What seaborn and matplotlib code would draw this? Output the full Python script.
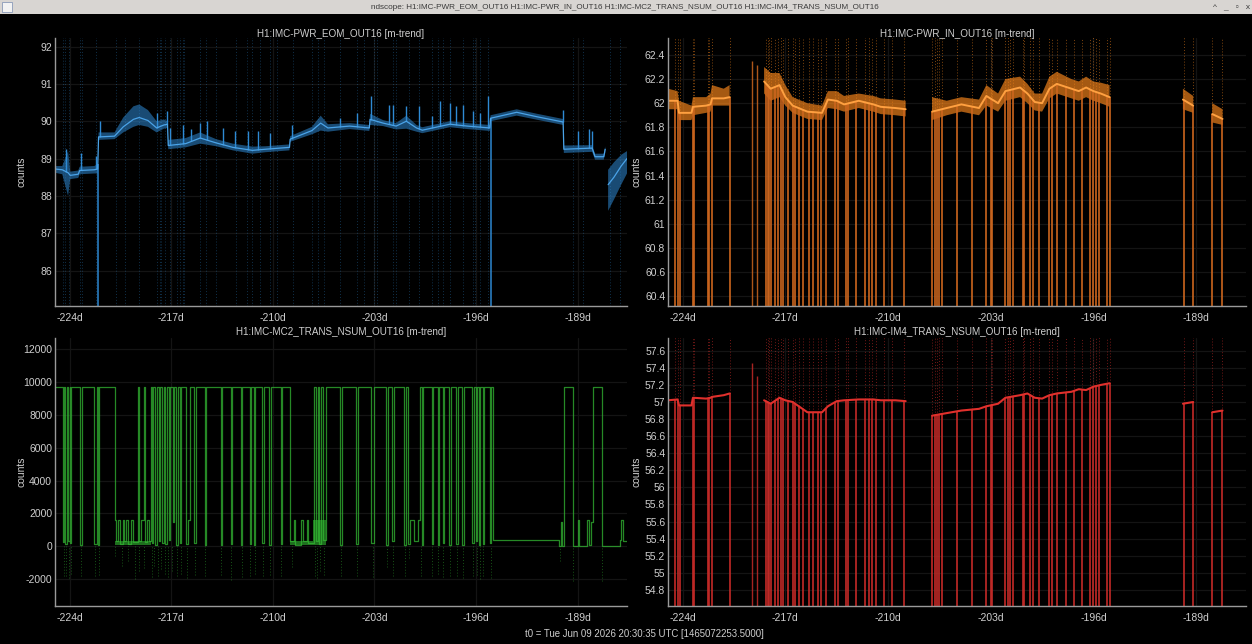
import matplotlib
matplotlib.use("Agg")
import matplotlib.pyplot as plt
import numpy as np
import pandas as pd
import seaborn as sns
from matplotlib.patches import Rectangle
from matplotlib.ticker import FixedLocator, FuncFormatter

# ---- data (days relative to t0) ----
window_title = ("ndscope: H1:IMC-PWR_EOM_OUT16 H1:IMC-PWR_IN_OUT16 "
                "H1:IMC-MC2_TRANS_NSUM_OUT16 H1:IMC-IM4_TRANS_NSUM_OUT16")
panel_titles = ["H1:IMC-PWR_EOM_OUT16 [m-trend]", "H1:IMC-PWR_IN_OUT16 [m-trend]",
                "H1:IMC-MC2_TRANS_NSUM_OUT16 [m-trend]", "H1:IMC-IM4_TRANS_NSUM_OUT16 [m-trend]"]
t0_text = "t0 = Tue Jun 09 2026 20:30:35 UTC [1465072253.5000]"
day_ticks = [-224, -217, -210, -203, -196, -189]

# PWR_EOM (blue): mean, min, max
eom_days = [-225.0, -224.5, -224.1, -223.95, -223.4, -223.3, -222.3, -222.06, -222.0,
            -220.9, -220.3, -219.6, -219.2, -218.6, -218.0, -217.5, -217.25, -217.2,
            -216.0, -215.0, -213.9, -212.75, -211.4, -210.5, -208.85, -208.8, -207.3,
            -206.7, -206.2, -204.7, -203.35, -203.3, -202.4, -201.5, -200.8, -200.1,
            -199.7, -197.8, -196.6, -195.05, -195.0, -193.2, -191.8, -190.0, -189.95,
            -188.0, -187.8, -187.2, -187.1, -187.0, -186.9, -186.5, -186.0, -185.6]
eom_mean = [88.72, 88.70, 88.62, 88.55, 88.58, 88.68, 88.70, 88.72, 89.58,
            89.60, 89.85, 90.05, 90.10, 90.02, 89.82, 89.90, 89.92, 89.35,
            89.40, 89.55, 89.42, 89.30, 89.22, 89.25, 89.30, 89.52, 89.75,
            89.95, 89.82, 89.87, 89.82, 90.05, 89.95, 89.87, 90.00, 89.82,
            89.76, 89.92, 89.87, 89.82, 90.08, 90.24, 90.12, 89.98, 89.25,
            89.28, 89.05, 89.05, 89.25, np.nan, 88.30, 88.50, 88.80, 89.00]
eom_lo = [88.62, 88.58, 88.00, 88.45, 88.48, 88.58, 88.60, 88.60, 89.50,
          89.52, 89.70, 89.85, 89.90, 89.85, 89.70, 89.80, 89.82, 89.25,
          89.30, 89.40, 89.33, 89.22, 89.13, 89.17, 89.22, 89.45, 89.65,
          89.75, 89.72, 89.79, 89.74, 89.90, 89.87, 89.78, 89.80, 89.72,
          89.68, 89.84, 89.79, 89.74, 90.00, 90.15, 90.04, 89.90, 89.15,
          89.18, 88.97, 88.97, 89.15, np.nan, 87.60, 87.90, 88.30, 88.60]
eom_hi = [88.80, 88.80, 89.20, 88.65, 88.68, 88.78, 88.80, 88.85, 89.70,
          89.70, 90.10, 90.40, 90.45, 90.30, 90.00, 90.05, 90.00, 89.50,
          89.55, 89.70, 89.52, 89.40, 89.32, 89.33, 89.38, 89.60, 89.85,
          90.15, 89.92, 89.95, 89.90, 90.20, 90.03, 89.95, 90.15, 89.90,
          89.84, 90.00, 89.95, 89.90, 90.16, 90.32, 90.20, 90.06, 89.35,
          89.36, 89.13, 89.13, 89.33, np.nan, 88.70, 88.90, 89.10, 89.20]
eom_spike_days = [-224.23, -223.2, -222.2, -221.9, -218.0, -217.3, -217.1, -216.2, -215.6,
                  -215.0, -214.5, -213.4, -212.6, -211.7, -211.0, -210.2, -208.7, -205.4,
                  -204.2, -203.2, -202.0, -201.7, -200.8, -199.9, -199.0, -198.5, -197.8,
                  -197.4, -196.9, -196.2, -195.7, -195.2, -190.0, -189.0, -188.2, -188.0]
eom_spike_tops = [89.25, 89.16, 89.07, 90.00, 90.22, 90.27, 89.82, 89.91, 89.78,
                  89.95, 90.00, 89.82, 89.73, 89.73, 89.73, 89.69, 89.91, 90.09,
                  90.22, 90.67, 90.44, 90.44, 90.40, 90.40, 90.13, 90.53, 90.50,
                  90.40, 90.44, 90.27, 90.22, 90.67, 90.31, 89.73, 89.78, 89.73]
eom_dropout_days = [-224.46, -224.3, -224.07, -223.31, -223.15, -222.2, -220.8, -220.2,
                    -219.2, -218.0, -217.8, -217.7, -217.4, -217.1, -216.6, -216.4,
                    -216.2, -216.1, -215.0, -214.6, -213.9, -212.5, -211.8, -211.4,
                    -210.9, -210.2, -209.7, -208.6, -207.3, -206.9, -206.5, -205.4,
                    -204.2, -203.7, -203.0, -202.85, -201.7, -201.5, -200.6, -199.9,
                    -199.0, -198.6, -198.3, -197.8, -196.9, -196.2, -196.1, -195.7,
                    -195.15, -189.3, -188.6, -186.8, -186.1]
eom_full_drops = [-222.05, -195.0]
eom_range = [84.9, 92.4]

# PWR_IN (orange) and IM4 (red) share the same lock segments
pwr_days = [-225.0, -224.35, -224.25, -223.4, -223.3, -222.4, -222.1, -222.0, -221.2, -220.8,
            -220.7, -218.45, -218.0, -217.4, -217.0, -216.5, -215.5, -214.5, -214.1,
            -213.5, -213.0, -212.0, -211.0, -210.5, -209.5, -208.8, -208.7, -207.0,
            -206.0, -205.0, -203.8, -203.3, -202.5, -202.0, -201.0, -200.5, -200.0,
            -199.5, -199.0, -198.5, -197.5, -197.0, -196.5, -196.0, -195.5, -194.9,
            -194.8, -189.9, -189.2, -189.1, -187.9, -187.2]
in_mean = [62.02, 62.02, 61.92, 61.92, 61.97, 61.98, 61.99, 62.04, 62.04, 62.05,
           np.nan, 62.18, 62.12, 62.15, 62.05, 61.98, 61.93, 61.92, 62.03,
           62.02, 61.99, 62.02, 61.99, 61.97, 61.96, 61.95, np.nan, 61.93,
           61.96, 61.99, 61.96, 62.06, 62.00, 62.10, 62.13, 62.08, 62.01,
           62.00, 62.12, 62.16, 62.12, 62.10, 62.13, 62.10, 62.08, 62.05,
           np.nan, 62.03, 61.98, np.nan, 61.91, 61.87]
in_lo = [61.95, 61.95, 61.86, 61.86, 61.90, 61.92, 61.93, 61.98, 61.98, 61.98,
         np.nan, 62.08, 62.02, 62.05, 61.98, 61.92, 61.87, 61.86, 61.96,
         61.95, 61.93, 61.96, 61.93, 61.91, 61.90, 61.89, np.nan, 61.86,
         61.90, 61.93, 61.90, 61.98, 61.93, 62.02, 62.05, 62.00, 61.94,
         61.93, 62.04, 62.08, 62.04, 62.02, 62.05, 62.02, 62.00, 61.97,
         np.nan, 61.95, 61.92, np.nan, 61.84, 61.82]
in_hi = [62.12, 62.10, 62.02, 61.98, 62.05, 62.05, 62.08, 62.15, 62.12, 62.15,
         np.nan, 62.30, 62.25, 62.25, 62.15, 62.05, 62.00, 61.98, 62.10,
         62.10, 62.06, 62.08, 62.06, 62.04, 62.03, 62.02, np.nan, 62.05,
         62.02, 62.05, 62.03, 62.15, 62.08, 62.20, 62.22, 62.16, 62.08,
         62.08, 62.22, 62.26, 62.20, 62.18, 62.22, 62.18, 62.17, 62.15,
         np.nan, 62.12, 62.06, np.nan, 62.00, 61.95]
im4_mean = [57.02, 57.03, 56.96, 56.96, 57.05, 57.04, 57.05, 57.06, 57.08, 57.10,
            np.nan, 57.02, 56.98, 57.05, 57.02, 57.00, 56.88, 56.88, 56.95,
            57.01, 57.02, 57.03, 57.03, 57.02, 57.02, 57.01, np.nan, 56.84,
            56.87, 56.90, 56.92, 56.95, 56.98, 57.05, 57.08, 57.10, 57.05,
            57.04, 57.08, 57.10, 57.12, 57.15, 57.14, 57.18, 57.20, 57.22,
            np.nan, 56.98, 57.00, np.nan, 56.88, 56.90]
pwr_spike_days = [-224.5, -224.3, -224.2, -223.3, -223.2, -222.3, -222.2, -222.0, -220.8,
                  -218.3, -218.2, -218.1, -217.95, -217.7, -217.5, -217.3, -217.15, -216.8,
                  -216.5, -216.35, -216.1, -215.8, -215.4, -215.1, -214.75, -214.6, -214.2,
                  -213.6, -213.4, -212.9, -212.7, -212.2, -211.6, -211.3, -211.1, -210.8,
                  -210.3, -209.7, -208.9, -207.0, -206.8, -206.65, -206.5, -206.3, -205.3,
                  -204.25, -203.3, -203.0, -202.9, -202.0, -201.85, -201.7, -201.5, -200.8,
                  -200.7, -200.3, -200.1, -199.7, -199.0, -198.8, -198.5, -197.9, -197.3,
                  -196.8, -196.2, -196.0, -195.8, -195.6, -195.1, -194.9, -189.8, -189.2,
                  -187.9, -187.25]
pwr_lone_days = [-219.3, -218.9]
in_lone_tops = [62.35, 62.32]
im4_lone_tops = [57.46, 57.30]
pwr_dropout_level = 0.0
in_max_level = 62.6
im4_max_level = 57.8

# MC2 trans (green): step transitions of the mean, plus the min-trend dips
mc2_days = [-225.0, -224.46, -224.38, -224.3, -224.2, -224.1, -224.0, -223.95, -223.87, -223.3,
            -223.12, -222.3, -222.12, -222.05, -221.95, -220.9, -220.8, -220.65, -220.5,
            -220.35, -220.25, -220.1, -219.95, -219.75, -219.6, -219.3, -219.2, -219.05,
            -218.9, -218.8, -218.65, -218.5, -218.4, -218.3, -218.22, -218.1, -218.0,
            -217.85, -217.75, -217.62, -217.52, -217.4, -217.3, -217.15, -217.05, -216.9,
            -216.8, -216.65, -216.55, -216.4, -216.3, -215.95, -215.85, -215.7, -215.4,
            -215.3, -214.7, -214.6, -213.6, -213.5, -212.9, -212.8, -212.2, -212.1,
            -211.6, -211.5, -211.3, -211.2, -210.75, -210.6, -210.25, -210.15, -209.45,
            -209.35, -208.8, -208.55, -208.45, -208.05, -207.95, -207.65, -207.55, -207.15,
            -207.0, -206.9, -206.8, -206.65, -206.55, -206.35, -205.35, -205.25, -204.25,
            -204.15, -203.25, -203.0, -202.2, -202.05, -201.8, -201.65, -200.95, -200.85,
            -200.7, -200.55, -200.3, -200.0, -199.85, -199.75, -199.65, -199.05, -198.95,
            -198.65, -198.55, -198.3, -198.2, -197.85, -197.75, -197.35, -197.25, -196.95,
            -196.85, -196.25, -196.15, -196.0, -195.9, -195.8, -195.7, -195.55, -195.45,
            -195.05, -194.95, -194.85, -190.25, -190.15, -190.05, -189.95, -189.3, -189.0,
            -188.9, -188.35, -188.25, -188.05, -187.95, -187.3, -186.1, -186.0, -185.9,
            -185.6]
mc2_vals = [9700, 250, 9700, 150, 9700, 300, 9700, 200, 9700, 100,
            9700, 150, 9700, 100, 9700, 1600, 300, 1600, 150,
            1600, 300, 1600, 120, 1600, 250, 9700, 300, 1600,
            9700, 250, 1600, 300, 9700, 200, 9700, 100, 9700,
            300, 9700, 200, 9700, 150, 9700, 400, 9700, 1500,
            9700, 100, 9700, 200, 9700, 150, 1600, 9700, 200,
            9700, 100, 9700, 100, 9700, 150, 9700, 100, 9700,
            150, 9700, 100, 9700, 200, 9700, 100, 9700, 150,
            9700, 300, 1600, 100, 1600, 300, 1600, 200, 9700,
            300, 9700, 150, 9700, 400, 9700, 100, 9700, 150,
            9700, 200, 9700, 100, 9700, 300, 9700, 100, 9700,
            150, 1600, 300, 1600, 9700, 100, 9700, 150, 9700,
            100, 9700, 200, 9700, 100, 9700, 150, 9700, 100,
            9700, 200, 9700, 300, 9700, 100, 9700, 150, 9700,
            200, 9700, 370, 50, 1500, 50, 9700, 50, 1600,
            50, 1600, 100, 1500, 9700, 30, 400, 1600, 300,
            300]
mc2_min_days = [-224.4, -224.25, -224.05, -223.9, -223.2, -222.25, -222.0, -220.85, -220.4,
                -220.0, -219.5, -219.2, -218.85, -218.3, -218.15, -217.9, -217.7, -217.45,
                -217.2, -216.95, -216.6, -216.35, -215.9, -215.35, -214.65, -213.55, -212.85,
                -212.15, -211.55, -211.25, -210.7, -210.2, -209.4, -208.7, -207.1, -206.95,
                -206.75, -206.5, -205.3, -204.2, -203.1, -202.1, -201.7, -200.9, -200.6,
                -199.8, -199.0, -198.6, -198.25, -197.8, -197.3, -196.9, -196.2, -195.95,
                -195.75, -195.5, -195.0, -190.2, -189.3, -187.3]
mc2_min_vals = [-1830, -1800, -1900, -1700, -1830, -1800, -1750, -600, -1200,
                -900, -2000, -1500, -1300, -1850, -1200, -1800, -1400, -1700,
                -1850, -1500, -1800, -1700, -1900, -1750, -1800, -1750, -2050,
                -1850, -1800, -1700, -1800, -1750, -1800, -1250, -1830, -1900,
                -1500, -1750, -1830, -1800, -1850, -1250, -1800, -1830, -700,
                -1800, -1830, -1700, -1850, -1800, -1830, -1900, -1800, -1750,
                -2000, -1800, -1900, -900, -2100, -2100]
# dense low-power stretches where the min/max band fills in solid
mc2_block_start = [-220.9, -208.8, -207.2]
mc2_block_end = [-218.4, -207.2, -206.3]
mc2_block_lo = [60, 80, 100]
mc2_block_hi = [350, 350, 1600]

# ---- styling ----
FONT = ["Liberation Sans Narrow", "Liberation Sans", "DejaVu Sans"]
TXT = "#cfcfcf"
sns.set_theme(style="dark", rc={
    "figure.facecolor": "black", "axes.facecolor": "black",
    "axes.edgecolor": "#9a9a9a", "axes.grid": True, "grid.color": "#141414",
    "grid.linewidth": 0.9, "xtick.color": TXT, "ytick.color": TXT,
    "text.color": TXT, "axes.labelcolor": TXT})
plt.rcParams["font.family"] = FONT

XLIM = (-225.0, -185.6)
W, H = 1252, 644
fig = plt.figure(figsize=(W / 100, H / 100), dpi=100)


def box(l, t, r, b):
    return [l / W, 1 - b / H, (r - l) / W, (b - t) / H]


def trim(v, _):
    return f"{round(v, 3):g}"


def dayfmt(v, _):
    return f"{int(round(v))}d"


def setup(ax, title, ylim, yticks, label_x, title_pad):
    ax.set_xlim(*XLIM)
    ax.set_ylim(*ylim)
    ax.xaxis.set_major_locator(FixedLocator(day_ticks))
    ax.xaxis.set_major_formatter(FuncFormatter(dayfmt))
    ax.yaxis.set_major_locator(FixedLocator(yticks))
    ax.yaxis.set_major_formatter(FuncFormatter(trim))
    ax.tick_params(length=0, labelsize=7.5)
    ax.tick_params(axis="x", pad=5)
    ax.tick_params(axis="y", pad=2)
    for s in ["top", "right"]:
        ax.spines[s].set_visible(False)
    for s in ["left", "bottom"]:
        ax.spines[s].set_linewidth(1.0)
    ax.set_title(title, fontsize=7.1, color=TXT, pad=title_pad)
    ax.set_xlabel("")
    ax.set_ylabel("counts", fontsize=7.5)
    ax.yaxis.set_label_coords(label_x, 0.5)


def trace_frame(days, vals):
    df = pd.DataFrame({"day": days, "value": vals})
    df["seg"] = df["value"].isna().cumsum()
    return df.dropna()


def level_at(days, seg_days, vals):
    d = np.asarray(seg_days, float)
    v = np.asarray(vals, float)
    ok = np.isfinite(v)
    return np.interp(days, d[ok], v[ok])


# top-left: PWR_EOM
ax1 = fig.add_axes(box(55, 38, 627, 306))
blue = "#2e8ad4"
ax1.vlines(eom_dropout_days, eom_range[0], eom_range[1], colors=blue,
           linestyles=(0, (1, 2)), linewidth=0.7, alpha=0.35)
ax1.vlines(eom_full_drops, eom_range[0], level_at(eom_full_drops, eom_days, eom_mean),
           colors=blue, linewidth=1.2, alpha=0.9)
ax1.fill_between(eom_days, eom_lo, eom_hi, color=blue, alpha=0.55, linewidth=0)
ax1.vlines(eom_spike_days, level_at(eom_spike_days, eom_days, eom_mean), eom_spike_tops,
           colors=blue, linewidth=1.0)
sns.lineplot(data=trace_frame(eom_days, eom_mean), x="day", y="value", units="seg",
             estimator=None, sort=False, color="#4aa3e8", linewidth=0.9, ax=ax1)
setup(ax1, panel_titles[0], (85.05, 92.23), [86, 87, 88, 89, 90, 91, 92], -0.049, 0.5)

# top-right: PWR_IN
ax2 = fig.add_axes(box(668, 38, 1246, 306))
orange = "#ff8a1c"
in_level = level_at(pwr_spike_days, pwr_days, in_mean)
ax2.vlines(pwr_spike_days, in_level, in_max_level, colors=orange,
           linestyles=(0, (1, 2)), linewidth=0.7, alpha=0.5)
ax2.vlines(pwr_spike_days, pwr_dropout_level, in_level, colors="#cc661e",
           linewidth=1.4, alpha=0.85)
ax2.vlines(pwr_lone_days, pwr_dropout_level, in_lone_tops, colors="#cc661e",
           linewidth=1.0, alpha=0.85)
ax2.fill_between(pwr_days, in_lo, in_hi, color=orange, alpha=0.65, linewidth=0)
sns.lineplot(data=trace_frame(pwr_days, in_mean), x="day", y="value", units="seg",
             estimator=None, sort=False, color="#ffa040", linewidth=1.4, ax=ax2)
setup(ax2, panel_titles[1], (60.32, 62.54),
      [60.4, 60.6, 60.8, 61.0, 61.2, 61.4, 61.6, 61.8, 62.0, 62.2, 62.4], -0.045, 0.5)

# bottom-left: MC2 trans
ax3 = fig.add_axes(box(55, 338, 627, 606))
green = "#33b833"
ax3.vlines(mc2_min_days, mc2_min_vals, 0, colors=green,
           linestyles=(0, (1, 2)), linewidth=0.7, alpha=0.45)
for s, e, lo, hi in zip(mc2_block_start, mc2_block_end, mc2_block_lo, mc2_block_hi):
    ax3.fill_between([s, e], lo, hi, color=green, alpha=0.6, linewidth=0)
sns.lineplot(x=mc2_days, y=mc2_vals, estimator=None, sort=False, color=green,
             linewidth=0.9, alpha=0.75, drawstyle="steps-post", ax=ax3)
setup(ax3, panel_titles[2], (-3625, 12670),
      [-2000, 0, 2000, 4000, 6000, 8000, 10000, 12000], -0.049, 2)

# bottom-right: IM4 trans
ax4 = fig.add_axes(box(668, 338, 1246, 606))
red = "#e0302c"
im4_level = level_at(pwr_spike_days, pwr_days, im4_mean)
ax4.vlines(pwr_spike_days, im4_level, im4_max_level, colors=red,
           linestyles=(0, (1, 2)), linewidth=0.7, alpha=0.5)
ax4.vlines(pwr_spike_days, pwr_dropout_level, im4_level, colors="#c42a27",
           linewidth=1.4, alpha=0.85)
ax4.vlines(pwr_lone_days, pwr_dropout_level, im4_lone_tops, colors="#c42a27",
           linewidth=1.0, alpha=0.85)
sns.lineplot(data=trace_frame(pwr_days, im4_mean), x="day", y="value", units="seg",
             estimator=None, sort=False, color=red, linewidth=1.5, ax=ax4)
setup(ax4, panel_titles[3], (54.61, 57.75),
      [54.8, 55.0, 55.2, 55.4, 55.6, 55.8, 56.0, 56.2, 56.4, 56.6, 56.8, 57.0,
       57.2, 57.4, 57.6], -0.045, 2)

# window chrome and t0 footer
fig.patches.append(Rectangle((0, 1 - 14 / H), 1, 14 / H, transform=fig.transFigure,
                             facecolor="#d8d5d2", edgecolor="none", zorder=0))
fig.patches.append(Rectangle((2 / W, 1 - 12 / H), 10 / W, 10 / H, transform=fig.transFigure,
                             facecolor="#f2f2f2", edgecolor="#8a9ab8", linewidth=0.6))
fig.text(625 / W, 1 - 7.5 / H, window_title, ha="center", va="center",
         fontsize=5.9, color="#3a3a3a")
fig.text(1232 / W, 1 - 7.5 / H, "^   _   \u25ab   x", ha="center", va="center",
         fontsize=6, color="#3a3a3a")
fig.text(644 / W, 1 - 634 / H, t0_text, ha="center", va="center",
         fontsize=6.9, color=TXT)

fig.savefig("out.png", dpi=100, facecolor="black")
